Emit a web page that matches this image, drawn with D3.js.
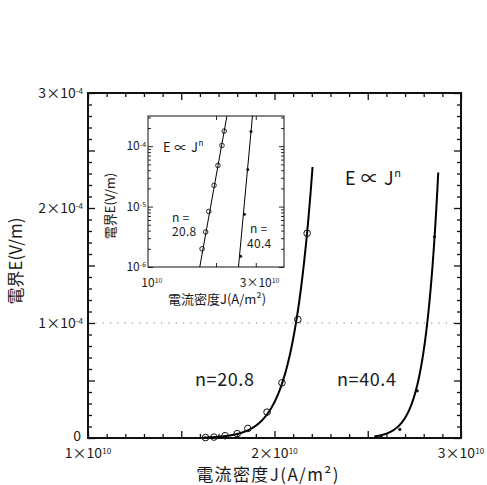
<!DOCTYPE html>
<html><head><meta charset="utf-8">
<script src="https://cdn.jsdelivr.net/npm/d3@7"></script>
<style>
body{margin:0;background:#fff}
svg text{font-family:"Noto Sans CJK JP","Noto Sans",sans-serif;fill:#1a1a1a}
</style>
</head><body>
<svg id="c" width="487" height="485"></svg>
<script>
// ---------- data ----------
// current density J (A/m^2) and electric field E (V/m)
const jN208 = [1.63e10, 1.675e10, 1.735e10, 1.80e10, 1.857e10, 1.96e10, 2.04e10, 2.125e10, 2.175e10];
const eN208 = [0.4e-6, 0.8e-6, 2.0e-6, 3.8e-6, 8.3e-6, 2.25e-5, 4.8e-5, 1.03e-4, 1.78e-4];
const jN404 = [2.571e10, 2.672e10, 2.765e10, 2.858e10];
const eN404 = [1.5e-6, 7.5e-6, 4.1e-5, 1.75e-4];
// power-law fits E = 1e-4 * (J/Jref)^n
const fitNames = ["n=20.8", "n=40.4"];
const fitN = [20.8, 40.4];
const fitJref = [2.115e10, 2.819e10];
const fitJmin = [1.62e10, 2.535e10];
const fitJmax = [2.204e10, 2.878e10];
// tick labels
const xTickValues = [1e10, 2e10, 3e10];
const xTickMant = ["1", "2", "3"];
const yTickValues = [0, 1e-4, 2e-4, 3e-4];
const yTickMant = ["0", "1", "2", "3"];
const insetXTickValues = [1e10, 3e10];
const insetXTickMant = ["", "3"];
const insetYTickValues = [1e-6, 1e-5, 1e-4];
const insetYTickExp = ["-6", "-5", "-4"];
const xTitle = "電流密度J(A/m²)";
const yTitle = "電界E(V/m)";

// ---------- main chart ----------
const svg = d3.select("#c");
const M = {l: 88, r: 461, t: 93, b: 438};
const x = d3.scaleLinear([1e10, 3e10], [M.l, M.r]);
const y = d3.scaleLinear([0, 3e-4], [M.b, M.t]);

function ticksAxis(g, axisFn, scale, vals, size, pos) {
  g.append("g").attr("transform", pos)
    .call(axisFn(scale).tickValues(vals).tickSizeInner(size).tickSizeOuter(0).tickFormat(""))
    .call(s => s.select(".domain").remove())
    .call(s => s.selectAll("line").attr("stroke", "#111").attr("stroke-width", 1.3));
}
const gm = svg.append("g");
const xMinor = x.ticks(20).filter(v => !x.ticks(4).includes(v));
const yMinor = y.ticks(30).filter(v => !y.ticks(6).some(w => Math.abs(w - v) < 1e-12));
ticksAxis(gm, d3.axisBottom, x, xMinor, -4, `translate(0,${M.b})`);
ticksAxis(gm, d3.axisBottom, x, x.ticks(4), -7, `translate(0,${M.b})`);
ticksAxis(gm, d3.axisTop, x, xMinor, -4, `translate(0,${M.t})`);
ticksAxis(gm, d3.axisTop, x, x.ticks(4), -7, `translate(0,${M.t})`);
ticksAxis(gm, d3.axisLeft, y, yMinor, -4, `translate(${M.l},0)`);
ticksAxis(gm, d3.axisLeft, y, y.ticks(6), -7, `translate(${M.l},0)`);
ticksAxis(gm, d3.axisRight, y, yMinor, -4, `translate(${M.r},0)`);
ticksAxis(gm, d3.axisRight, y, y.ticks(6), -7, `translate(${M.r},0)`);

// dotted reference line at 1e-4
gm.append("line").attr("x1", M.l).attr("x2", M.r).attr("y1", y(1e-4)).attr("y2", y(1e-4))
  .attr("stroke", "#888").attr("stroke-width", 1.2).attr("stroke-dasharray", "1.3,6");

// frame
gm.append("rect").attr("x", M.l).attr("y", M.t).attr("width", M.r - M.l).attr("height", M.b - M.t)
  .attr("fill", "none").attr("stroke", "#111").attr("stroke-width", 2);

function powText(g, px, py, base, sup, size, anchor) {
  const t = g.append("text").attr("x", px).attr("y", py).attr("font-size", size).attr("text-anchor", anchor);
  t.append("tspan").text(base);
  if (sup !== null) t.append("tspan").attr("font-size", size * 0.58).attr("dy", -size * 0.3).text(sup);
  return t;
}
// x tick labels
xTickValues.forEach((v, i) => powText(gm, x(v), 458, xTickMant[i] + "×10", "10", 14, "middle"));
// y tick labels
yTickValues.forEach((v, i) => {
  if (v === 0) gm.append("text").attr("x", 81).attr("y", y(v) + 3).attr("font-size", 14).attr("text-anchor", "end").text("0");
  else powText(gm, 83, y(v) + 5, yTickMant[i] + "×10", "-4", 14, "end");
});
// titles
gm.append("text").attr("x", 268).attr("y", 481).attr("font-size", 17).attr("letter-spacing", 1.4)
  .attr("text-anchor", "middle").text(xTitle);
gm.append("text").attr("transform", "translate(22,261) rotate(-90)").attr("font-size", 17)
  .attr("text-anchor", "middle").text(yTitle);

// fit curves
const line = d3.line().x(d => x(d[0])).y(d => y(d[1]));
fitN.forEach((n, k) => {
  const pts = d3.range(0, 201).map(i => {
    const J = fitJmin[k] + (fitJmax[k] - fitJmin[k]) * i / 200;
    return [J, 1e-4 * Math.pow(J / fitJref[k], n)];
  });
  gm.append("path").attr("d", line(pts)).attr("fill", "none").attr("stroke", "#000").attr("stroke-width", 2);
});
// data markers
jN208.forEach((j, i) => gm.append("circle").attr("cx", x(j)).attr("cy", y(eN208[i])).attr("r", 3.3)
  .attr("fill", "none").attr("stroke", "#111").attr("stroke-width", 1));
jN404.forEach((j, i) => gm.append("circle").attr("cx", x(j)).attr("cy", y(eN404[i])).attr("r", 1.6).attr("fill", "#111"));

// annotations
const eq = gm.append("text").attr("x", 345).attr("y", 185).attr("font-size", 18).attr("letter-spacing", 0.6);
eq.append("tspan").text("E ∝ J");
eq.append("tspan").attr("font-size", 11).attr("dy", -8).text("n");
gm.append("text").attr("x", 195).attr("y", 386).attr("font-size", 18).attr("letter-spacing", 0.6).text(fitNames[0]);
gm.append("text").attr("x", 337).attr("y", 386).attr("font-size", 18).attr("letter-spacing", 0.6).text(fitNames[1]);

// ---------- inset ----------
const I = {l: 148, r: 284, t: 116, b: 267};
const xi = d3.scaleLog([1e10, 4e10], [I.l, I.r]);
const yi = d3.scaleLog([1e-6, Math.pow(10, -3.5)], [I.b, I.t]);
const gi = svg.append("g");
gi.append("rect").attr("x", I.l).attr("y", I.t).attr("width", I.r - I.l).attr("height", I.b - I.t).attr("fill", "#fff");
svg.append("clipPath").attr("id", "ic").append("rect")
  .attr("x", I.l).attr("y", I.t).attr("width", I.r - I.l).attr("height", I.b - I.t);

const yiAll = yi.ticks();
const yiMinor = yiAll.filter(v => !insetYTickValues.some(w => Math.abs(Math.log10(w) - Math.log10(v)) < 1e-9));
const xiMajor = [2e10, 3e10];
function thin(g, axisFn, scale, vals, size, pos) {
  g.append("g").attr("transform", pos)
    .call(axisFn(scale).tickValues(vals).tickSizeInner(size).tickSizeOuter(0).tickFormat(""))
    .call(s => s.select(".domain").remove())
    .call(s => s.selectAll("line").attr("stroke", "#111").attr("stroke-width", 0.9));
}
thin(gi, d3.axisLeft, yi, yiMinor, -3, `translate(${I.l},0)`);
thin(gi, d3.axisLeft, yi, insetYTickValues, -5, `translate(${I.l},0)`);
thin(gi, d3.axisRight, yi, yiMinor, -3, `translate(${I.r},0)`);
thin(gi, d3.axisRight, yi, insetYTickValues, -5, `translate(${I.r},0)`);
thin(gi, d3.axisBottom, xi, xiMajor, -4, `translate(0,${I.b})`);
thin(gi, d3.axisTop, xi, xiMajor, -4, `translate(0,${I.t})`);

const gc = gi.append("g").attr("clip-path", "url(#ic)");
const linei = d3.line().x(d => xi(d[0])).y(d => yi(d[1]));
fitN.forEach((n, k) => {
  const J0 = 1.5e10, J1 = 3.5e10;
  const pts = [J0, J1].map(J => [J, 1e-4 * Math.pow(J / fitJref[k], n)]);
  gc.append("path").attr("d", linei(pts)).attr("fill", "none").attr("stroke", "#000").attr("stroke-width", 1);
});
jN208.forEach((j, i) => { if (eN208[i] >= 1e-6) gc.append("circle").attr("cx", xi(j)).attr("cy", yi(eN208[i]))
  .attr("r", 2.3).attr("fill", "none").attr("stroke", "#111").attr("stroke-width", 0.9); });
jN404.forEach((j, i) => { if (eN404[i] >= 1e-6) gc.append("circle").attr("cx", xi(j)).attr("cy", yi(eN404[i]))
  .attr("r", 1.5).attr("fill", "#111"); });

gi.append("rect").attr("x", I.l).attr("y", I.t).attr("width", I.r - I.l).attr("height", I.b - I.t)
  .attr("fill", "none").attr("stroke", "#111").attr("stroke-width", 1);

// inset tick labels
insetYTickValues.forEach((v, i) => powText(gi, 146, yi(v) + 4, "10", insetYTickExp[i], 12, "end"));
insetXTickValues.forEach((v, i) => {
  const t = powText(gi, 0, 287, insetXTickMant[i] ? insetXTickMant[i] + "×10" : "10", "10", 12, "start");
  const bw = t.select("tspan").node().getComputedTextLength();
  t.attr("x", xi(v) - bw / 2);
});
gi.append("text").attr("x", 217).attr("y", 304).attr("font-size", 13).attr("text-anchor", "middle").text(xTitle);
gi.append("text").attr("transform", "translate(115,206) rotate(-90)").attr("font-size", 13)
  .attr("text-anchor", "middle").text(yTitle);
const eqi = gi.append("text").attr("x", 163).attr("y", 152).attr("font-size", 13).attr("letter-spacing", 0.4);
eqi.append("tspan").text("E ∝ J");
eqi.append("tspan").attr("font-size", 8).attr("dy", -6).text("n");
// two-line n labels as single text elements
function twoLine(g, x1, y1, x2, y2, l1, l2) {
  const t = g.append("text").attr("font-size", 12).attr("letter-spacing", 0.3);
  t.append("tspan").attr("x", x1).attr("y", y1).text(l1);
  t.append("tspan").attr("x", x2).attr("y", y2).text(l2);
}
twoLine(gi, 172, 222, 172, 236, "n =", fitNames[0].slice(2));
twoLine(gi, 250, 233, 247, 248, "n =", fitNames[1].slice(2));
</script>
</body></html>
